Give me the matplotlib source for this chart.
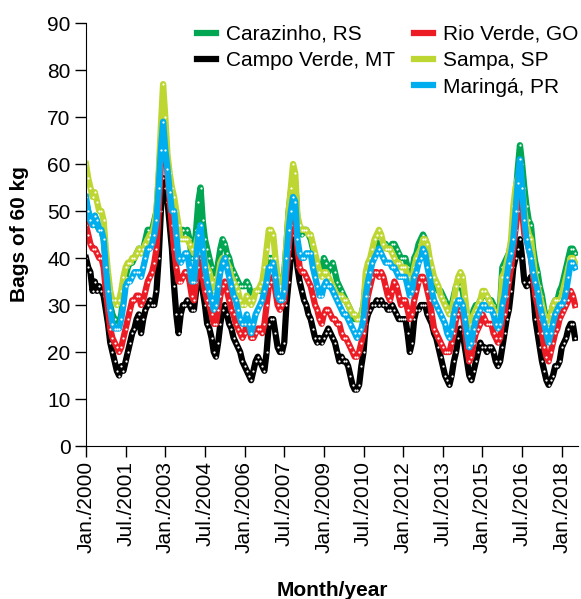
import numpy as np
import matplotlib
matplotlib.use("Agg")
import matplotlib.pyplot as plt
from matplotlib.lines import Line2D

plt.rcParams['font.family'] = ['Liberation Sans', 'DejaVu Sans']

# monthly prices, Jan/2000 .. Jul/2018 (bags of 60 kg)
carazinho_rs = [
    52, 50, 48, 47, 49, 47, 46, 46, 44, 39, 34, 30,
    28, 27, 26, 26, 28, 32, 36, 38, 39, 39, 40, 41,
    42, 41, 42, 44, 46, 46, 46, 48, 50, 57, 65, 71,
    65, 60, 56, 52, 51, 47, 44, 45, 46, 45, 46, 44,
    40, 41, 46, 52, 55, 48, 44, 42, 40, 38, 36, 36,
    39, 42, 44, 43, 41, 40, 38, 37, 36, 35, 34, 34,
    34, 35, 34, 32, 32, 33, 33, 33, 33, 36, 38, 40,
    40, 40, 38, 35, 35, 35, 37, 43, 50, 54, 57, 56,
    48, 46, 45, 46, 46, 45, 44, 42, 40, 39, 37, 37,
    40, 39, 37, 38, 39, 37, 35, 34, 33, 32, 31, 30,
    29, 28, 27, 27, 27, 28, 30, 35, 37, 39, 41, 42,
    42, 44, 44, 43, 43, 42, 42, 43, 43, 42, 41, 40,
    40, 40, 38, 36, 37, 40, 41, 43, 44, 45, 44, 41,
    38, 36, 35, 34, 33, 33, 32, 31, 30, 29, 30, 32,
    34, 34, 34, 33, 30, 28, 26, 27, 29, 30, 30, 31,
    32, 32, 32, 31, 31, 30, 29, 29, 30, 38, 39, 40,
    41, 43, 47, 53, 59, 64, 60, 55, 51, 48, 47, 42,
    39, 37, 34, 32, 29, 27, 26, 28, 30, 31, 31, 33,
    34, 36, 38, 40, 42, 42, 41,
]
campo_verde_mt = [
    40, 38, 37, 33, 35, 33, 34, 33, 32, 29, 26, 22,
    20, 18, 16, 15, 17, 16, 18, 20, 22, 24, 25, 27,
    28, 24, 27, 29, 30, 31, 30, 30, 33, 40, 50, 57,
    55, 52, 47, 42, 34, 28, 24, 28, 30, 30, 31, 30,
    29, 29, 33, 36, 37, 33, 30, 26, 25, 23, 20, 19,
    22, 26, 29, 30, 28, 26, 25, 23, 22, 21, 20, 18,
    17, 16, 15, 14, 16, 18, 19, 18, 17, 16, 20, 26,
    27, 27, 24, 21, 20, 20, 22, 30, 35, 40, 45, 43,
    38, 35, 33, 31, 30, 28, 27, 25, 23, 22, 23, 22,
    23, 24, 25, 24, 23, 22, 20, 18, 19, 18, 18, 17,
    15, 13, 12, 12, 13, 17, 20, 26, 28, 29, 30, 30,
    31, 30, 31, 30, 30, 29, 29, 30, 29, 28, 27, 27,
    27, 27, 24, 20, 22, 27, 29, 29, 30, 30, 30, 28,
    27, 26, 24, 23, 21, 19, 17, 15, 14, 13, 15, 18,
    20, 23, 25, 24, 21, 18, 15, 14, 16, 18, 20, 22,
    21, 21, 20, 21, 21, 20, 18, 17, 18, 21, 24, 27,
    29, 33, 38, 40, 42, 44, 40, 35, 34, 35, 36, 33,
    27, 24, 21, 18, 16, 14, 13, 14, 15, 17, 17, 18,
    21, 22, 23, 25, 26, 26, 23,
]
rio_verde_go = [
    47, 45, 43, 42, 42, 41, 40, 40, 38, 33, 29, 25,
    23, 22, 21, 20, 21, 23, 25, 27, 29, 31, 31, 32,
    32, 30, 31, 33, 35, 36, 37, 39, 42, 50, 60, 70,
    66, 58, 52, 47, 42, 38, 35, 35, 36, 37, 37, 35,
    32, 31, 35, 38, 40, 36, 33, 31, 30, 28, 26, 26,
    29, 32, 34, 35, 33, 31, 29, 28, 26, 25, 24, 23,
    24, 26, 25, 23, 23, 24, 25, 25, 24, 26, 30, 34,
    35, 36, 33, 30, 29, 30, 31, 37, 42, 47, 52, 50,
    42, 38, 37, 37, 36, 35, 34, 32, 30, 29, 27, 26,
    28, 29, 29, 28, 27, 27, 26, 26, 24, 23, 23, 22,
    21, 20, 19, 19, 20, 22, 24, 29, 32, 34, 36, 37,
    37, 36, 37, 36, 34, 32, 31, 33, 35, 34, 32, 30,
    31, 31, 29, 27, 28, 31, 33, 35, 36, 36, 35, 33,
    31, 28, 25, 24, 23, 22, 21, 20, 20, 20, 22, 24,
    27, 28, 29, 28, 25, 21, 18, 19, 22, 24, 25, 26,
    28, 27, 26, 26, 26, 24, 23, 22, 23, 27, 28, 32,
    35, 38, 42, 46, 50, 54, 50, 45, 44, 42, 40, 36,
    32, 30, 27, 24, 21, 19, 18, 20, 22, 24, 25, 27,
    28, 29, 30, 31, 33, 32, 30,
]
sampa_sp = [
    60, 57, 55, 53, 54, 52, 50, 50, 48, 42, 37, 33,
    31, 31, 30, 31, 33, 36, 38, 39, 39, 40, 40, 41,
    42, 41, 42, 43, 44, 45, 45, 47, 50, 58, 68, 77,
    70, 62, 58, 55, 53, 50, 47, 44, 44, 44, 44, 43,
    42, 41, 43, 45, 45, 42, 39, 38, 37, 35, 33, 33,
    36, 39, 40, 40, 39, 38, 36, 35, 34, 33, 31, 30,
    30, 32, 31, 30, 31, 33, 33, 34, 35, 38, 42, 46,
    46, 45, 40, 36, 34, 34, 36, 43, 50, 55, 60, 58,
    49, 47, 46, 46, 46, 45, 45, 43, 41, 39, 37, 36,
    37, 37, 36, 35, 34, 33, 32, 32, 32, 31, 31, 30,
    29, 28, 28, 27, 27, 28, 30, 37, 39, 40, 42, 44,
    45, 46, 45, 43, 42, 42, 42, 41, 40, 39, 39, 38,
    38, 38, 36, 34, 35, 38, 40, 41, 42, 44, 44, 43,
    40, 38, 36, 35, 34, 32, 31, 30, 29, 28, 29, 31,
    34, 36, 37, 36, 32, 28, 25, 26, 28, 29, 30, 31,
    33, 33, 32, 31, 30, 29, 28, 28, 29, 36, 37, 39,
    41, 44, 51, 55, 57, 58, 55, 50, 47, 45, 44, 40,
    36, 34, 32, 30, 28, 27, 26, 28, 30, 31, 31, 31,
    32, 34, 36, 38, 40, 40, 39,
]
maringa_pr = [
    53, 50, 48, 47, 49, 48, 46, 46, 44, 38, 33, 29,
    26, 25, 25, 25, 27, 30, 34, 35, 35, 36, 37, 37,
    37, 36, 38, 40, 42, 42, 43, 45, 48, 55, 63, 69,
    63, 59, 54, 50, 50, 45, 40, 39, 40, 41, 41, 38,
    35, 35, 40, 45, 47, 42, 38, 35, 33, 31, 29, 30,
    34, 37, 39, 40, 38, 36, 34, 32, 31, 29, 27, 26,
    26, 28, 26, 24, 26, 28, 29, 30, 31, 33, 35, 38,
    38, 39, 36, 32, 31, 31, 33, 40, 46, 50, 53, 52,
    44, 41, 40, 40, 41, 41, 41, 38, 36, 34, 32, 32,
    34, 35, 34, 34, 33, 32, 31, 30, 29, 28, 28, 27,
    26, 25, 24, 23, 24, 25, 27, 32, 35, 37, 39, 40,
    41, 42, 41, 40, 39, 39, 39, 38, 38, 37, 36, 36,
    36, 36, 34, 32, 33, 36, 37, 39, 40, 42, 41, 38,
    36, 33, 31, 30, 29, 28, 27, 26, 24, 23, 25, 28,
    30, 31, 31, 30, 27, 24, 21, 22, 25, 27, 28, 29,
    30, 30, 29, 29, 29, 28, 26, 25, 26, 30, 32, 36,
    39, 41, 44, 50, 56, 61, 55, 48, 44, 42, 40, 37,
    35, 33, 30, 28, 26, 24, 22, 24, 26, 28, 29, 30,
    30, 31, 33, 36, 39, 39, 38,
]

labels = ["Carazinho, RS", "Campo Verde, MT", "Rio Verde, GO", "Sampa, SP", "Maringá, PR"]
colors = ["#00a651", "#000000", "#ed1c24", "#bdd631", "#00aeef"]
tick_labels = ["Jan./2000", "Jul./2001", "Jan./2003", "Jul./2004", "Jan./2006",
               "Jul./2007", "Jan./2009", "Jul./2010", "Jan./2012", "Jul./2013",
               "Jan./2015", "Jul./2016", "Jan./2018"]

series = [carazinho_rs, campo_verde_mt, rio_verde_go, sampa_sp, maringa_pr]
months = np.arange(len(carazinho_rs))

fig = plt.figure(figsize=(5.81, 5.99), dpi=100)
ax = fig.add_axes([0.148, 0.2554, 0.847, 0.7062])

# draw order: black at the back, blue on top
for i in [1, 2, 3, 0, 4]:
    ax.plot(months, series[i], color=colors[i], lw=4.5, solid_joinstyle='round',
            marker='o', ms=1.6, mfc='white', mec='none', zorder=2 + i * 0.1)

ax.set_xlim(0, 223.4)
ax.set_ylim(0, 90)
ax.set_yticks(range(0, 91, 10))
ax.set_xticks(np.arange(0, 217, 18))
ax.set_xticklabels(tick_labels, rotation=90)
ax.tick_params(axis='both', labelsize=15, length=8, width=1, direction='out',
               colors='black', pad=3)
ax.spines['top'].set_visible(False)
ax.spines['right'].set_visible(False)

ax.set_ylabel("Bags of 60 kg", fontsize=15, fontweight='bold', labelpad=13)
ax.set_xlabel("Month/year", fontsize=15, fontweight='bold', labelpad=20)

handles = [Line2D([], [], color=c, lw=4.5) for c in colors]
blank = Line2D([], [], color='none')
ax.legend([handles[0], handles[1], blank, handles[2], handles[3], handles[4]],
          [labels[0], labels[1], "", labels[2], labels[3], labels[4]],
          ncol=2, loc='upper right', bbox_to_anchor=(1.018, 1.015), frameon=False,
          borderaxespad=0, fontsize=15, handlelength=0.9, handletextpad=0.5,
          columnspacing=0.9, labelspacing=0.35)

fig.savefig("out.png", dpi=100, facecolor='white')
